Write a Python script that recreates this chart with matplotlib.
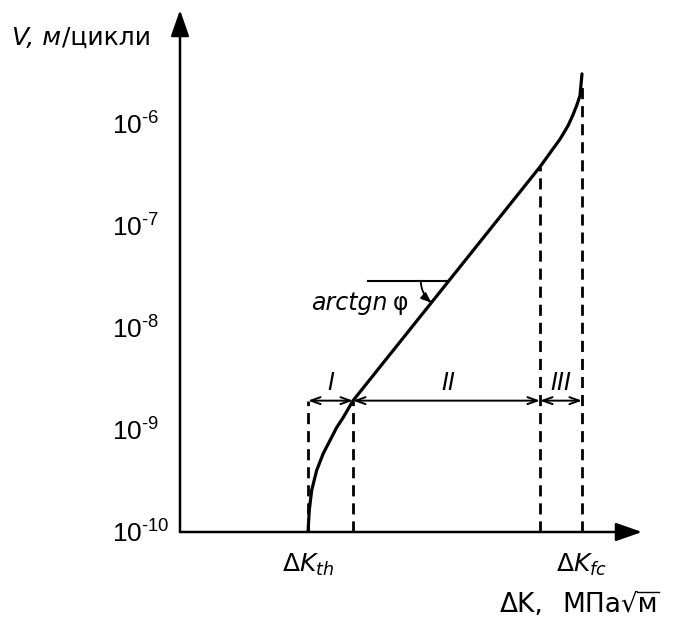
import matplotlib
matplotlib.use("Agg")
import matplotlib.pyplot as plt
from matplotlib.lines import Line2D
import numpy as np

plt.rcParams["font.family"] = ["DejaVu Sans"]
plt.rcParams["mathtext.fontset"] = "custom"
plt.rcParams["mathtext.rm"] = "Liberation Sans"
plt.rcParams["mathtext.it"] = "DejaVu Sans:italic"
plt.rcParams["mathtext.sf"] = "DejaVu Sans"

# крива швидкості росту втомної тріщини (ΔK в умовних одиницях)
dk = [12.8, 12.93, 13.17, 13.67, 14.33, 15.0, 15.67, 16.33, 17.3,
      36.0, 37.0, 38.0, 38.8, 39.3, 39.7, 40.0, 40.2]
v = [1.0e-10, 1.64e-10, 2.57e-10, 4.03e-10, 5.9e-10, 7.9e-10, 1.06e-9,
     1.33e-9, 1.94e-9,
     3.8e-7, 5.2e-7, 7.1e-7, 9.6e-7, 1.23e-6, 1.55e-6, 1.9e-6, 3.1e-6]

dk_th = 12.8      # поріг
dk_I = 17.3       # межа I/II
dk_II = 36.0      # межа II/III
dk_fc = 40.2      # критичне значення
v_kink = 1.94e-9  # рівень ліній розмірів
v_II = 3.8e-7
v_fc_top = 2.3e-6

y_ticks = [1e-10, 1e-9, 1e-8, 1e-7, 1e-6]
y_labels = [r"$\mathrm{10^{‐10}}$", r"$\mathrm{10^{‐9}}$",
            r"$\mathrm{10^{‐8}}$", r"$\mathrm{10^{‐7}}$",
            r"$\mathrm{10^{‐6}}$"]

fig = plt.figure(figsize=(6.75, 6.17), dpi=100)
ax = fig.add_axes([180 / 675, 85 / 617, 462 / 675, 522 / 617])
ax.set_yscale("log")
ax.set_xlim(0, 46.2)
ax.set_ylim(1e-10, 10 ** (-10 + 522 / 102))

for s in ax.spines.values():
    s.set_visible(False)

# осі зі стрілками
arr = dict(arrowstyle="-|>,head_length=0.8,head_width=0.28", color="black",
           lw=1.8, shrinkA=0, shrinkB=0, mutation_scale=20)
ax.annotate("", xy=(0, 1), xytext=(0, 0), xycoords="axes fraction",
            arrowprops=arr)
ax.annotate("", xy=(1, 0), xytext=(0, 0), xycoords="axes fraction",
            arrowprops=arr)

# ticks
ax.yaxis.set_minor_locator(matplotlib.ticker.NullLocator())
ax.set_yticks(y_ticks)
ax.set_yticklabels(y_labels, fontsize=19)
ax.tick_params(axis="y", length=0, pad=49)
for lbl in ax.get_yticklabels():
    lbl.set_horizontalalignment("left")
ax.set_xticks([dk_th, dk_fc])
ax.set_xticklabels([r"Δ$K_{th}$", r"Δ$K_{fc}$"], fontsize=18)
ax.tick_params(axis="x", length=0, pad=14)

# кінетична діаграма
ax.plot(dk, v, color="black", lw=2.3, solid_capstyle="round",
        solid_joinstyle="round")

# пунктирні лінії
dash = dict(color="black", lw=2.0, linestyle=(0, (4, 2.5)))
ax.plot([dk_th, dk_th], [1e-10, v_kink], **dash)
ax.plot([dk_I, dk_I], [1e-10, v_kink], **dash)
ax.plot([dk_II, dk_II], [1e-10, v_II], **dash)
ax.plot([dk_fc, dk_fc], [1e-10, v_fc_top], **dash)

# розмірні стрілки ділянок I, II, III
dim = dict(arrowstyle="<->,head_length=0.5,head_width=0.18", color="black",
           lw=1.4, shrinkA=0, shrinkB=0, mutation_scale=14)
for a, b in [(dk_th, dk_I), (dk_I, dk_II), (dk_II, dk_fc)]:
    ax.annotate("", xy=(b, v_kink), xytext=(a, v_kink), arrowprops=dim)
v_lab = 2.9e-9
ax.text((dk_th + dk_I) / 2, v_lab, "I", style="italic", fontsize=17,
        ha="center", va="center")
ax.text((dk_I + dk_II) / 2 + 0.2, v_lab, "II", style="italic", fontsize=17,
        ha="center", va="center")
ax.text((dk_II + dk_fc) / 2, v_lab, "III", style="italic", fontsize=17,
        ha="center", va="center")

# кут нахилу лінійної ділянки
v_ang = 2.9e-8
k = (np.log10(v_II) - np.log10(v_kink)) / (dk_II - dk_I)
x_cross = dk_I + (np.log10(v_ang) - np.log10(v_kink)) / k
ax.plot([18.8, x_cross], [v_ang, v_ang], color="black", lw=1.5)
p0 = ax.transData.transform((x_cross, v_ang))
ang = np.arctan2(*(ax.transData.transform((dk_II, v_II)) - p0)[::-1])
r = 28
th = np.linspace(np.pi, np.pi + ang, 30)
arc = ax.transData.inverted().transform(
    p0 + r * np.column_stack([np.cos(th), np.sin(th)]))
ax.plot(arc[:-3, 0], arc[:-3, 1], color="black", lw=1.3)
ax.annotate("", xy=arc[-1], xytext=arc[-4],
            arrowprops=dict(arrowstyle="-|>,head_length=0.5,head_width=0.2",
                            color="black", lw=1.3, shrinkA=0, shrinkB=0,
                            mutation_scale=12))
v_txt = 1.75e-8
ax.text(x_cross - 6.1, v_txt, "arctgn", style="italic", fontsize=17,
        ha="right", va="center")
ax.text(x_cross - 5.6, v_txt, "φ", fontsize=17, ha="left", va="center")

# підписи осей
fig.canvas.draw()
rend = fig.canvas.get_renderer()
t1 = fig.text(12 / 675, 1 - 38 / 617, "V, м", style="italic", fontsize=18,
              ha="left", va="center")
x1 = t1.get_window_extent(rend).x1
fig.text(x1 / 675 + 0.002, 1 - 38 / 617, "/цикли", fontsize=18, ha="left",
         va="center")

fs_x = 19
base_y = 617 - 612
fig.text(500 / 675, base_y / 617, "ΔK,", fontsize=fs_x, ha="left",
         va="baseline")
tx = fig.text(562 / 675, base_y / 617, "МПа√м", fontsize=fs_x,
              ha="left", va="baseline")
ext = tx.get_window_extent(rend)
tmp = fig.text(0, 0, "МПа√", fontsize=fs_x)
w1 = tmp.get_window_extent(rend).width
tmp.remove()
em = fs_x * 100 / 72
bar_y = base_y + 0.76 * em
fig.add_artist(Line2D([(ext.x0 + w1 - 1) / 675, (ext.x1 + 1) / 675],
                      [bar_y / 617, bar_y / 617], color="black", lw=1.0))

fig.savefig("out.png", dpi=100)
